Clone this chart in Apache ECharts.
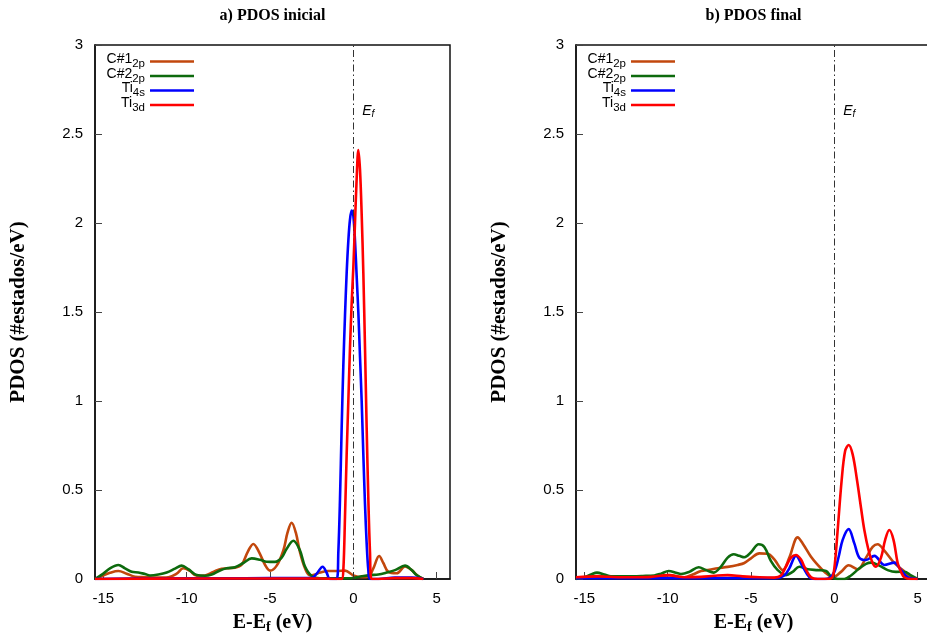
<!DOCTYPE html>
<html><head><meta charset="utf-8">
<script src="https://cdn.jsdelivr.net/npm/echarts@6/dist/echarts.min.js"></script>
<style>html,body{margin:0;padding:0;background:#fff}#c{width:927px;height:641px}</style>
</head><body><div id="c"></div>
<script>
// ---------- data ----------
const titles = ['a) PDOS inicial', 'b) PDOS final'];
const seriesNames = ['C#1', 'C#2', 'Ti4s', 'Ti3d'];
const xTickValues = [-15, -10, -5, 0, 5];
const xMin = -15.5, xMax = 5.8;
const yMin = 0, yMax = 3, yStep = 0.5;
const fermiE = 0;

// Panel a) PDOS inicial
const c1aE = [-15.5, -15.0, -14.6, -14.1, -13.6, -13.1, -12.5, -11.8, -11.1, -10.6, -10.2, -9.8, -9.4, -8.9, -8.4, -7.9, -7.1, -6.7, -6.35, -6.0, -5.65, -5.3, -5.0, -4.6, -4.2, -3.95, -3.7, -3.45, -3.2, -2.9, -2.6, -2.3, -2.0, -1.5, -1.0, -0.5, 0.0, 0.5, 0.9, 1.2, 1.55, 1.8, 2.1, 2.6, 3.1, 3.5, 3.9, 4.2];
const c1aP = [0.0, 0.02, 0.035, 0.045, 0.03, 0.013, 0.01, 0.008, 0.01, 0.03, 0.06, 0.045, 0.018, 0.02, 0.04, 0.058, 0.063, 0.08, 0.15, 0.197, 0.15, 0.08, 0.047, 0.075, 0.16, 0.26, 0.316, 0.26, 0.15, 0.06, 0.02, 0.025, 0.036, 0.045, 0.045, 0.047, 0.02, 0.01, 0.013, 0.06, 0.129, 0.09, 0.04, 0.032, 0.07, 0.05, 0.015, 0.0];

const c2aE = [-15.5, -15.0, -14.6, -14.1, -13.7, -13.3, -12.9, -12.5, -12.2, -11.7, -11.2, -10.7, -10.3, -9.9, -9.4, -8.9, -8.5, -8.0, -7.6, -7.1, -6.6, -6.1, -5.6, -5.2, -4.7, -4.3, -4.0, -3.6, -3.2, -2.9, -2.5, -2.0, -1.0, 0.0, 0.5, 1.0, 1.5, 2.0, 2.5, 3.1, 3.5, 3.8, 4.2];
const c2aP = [0.0, 0.03, 0.06, 0.079, 0.06, 0.041, 0.037, 0.028, 0.02, 0.025, 0.036, 0.058, 0.075, 0.055, 0.022, 0.018, 0.025, 0.048, 0.06, 0.066, 0.09, 0.116, 0.108, 0.097, 0.096, 0.12, 0.17, 0.215, 0.16, 0.07, 0.017, 0.004, 0.004, 0.006, 0.015, 0.022, 0.025, 0.036, 0.05, 0.075, 0.05, 0.022, 0.0];

const ti4saE = [-15.5, -12.0, -8.0, -5.0, -3.0, -2.5, -2.2, -1.84, -1.6, -1.4, -1.0, -0.9, -0.8, -0.7, -0.6, -0.5, -0.4, -0.3, -0.2, -0.1, 0.0, 0.1, 0.2, 0.3, 0.4, 0.5, 0.6, 0.7, 0.8, 0.9, 1.0, 1.5, 2.5, 3.5, 4.2];
const ti4saP = [0.0, 0.003, 0.004, 0.005, 0.005, 0.005, 0.03, 0.069, 0.035, 0.0, 0.0, 0.15, 0.45, 0.85, 1.2, 1.48, 1.72, 1.9, 2.02, 2.07, 2.04, 1.9, 1.7, 1.5, 1.25, 1.0, 0.7, 0.42, 0.2, 0.05, 0.0, 0.0, 0.008, 0.008, 0.0];

const ti3daE = [-15.5, -10.0, -5.0, -2.0, -1.0, -0.7, -0.6, -0.5, -0.4, -0.3, -0.2, -0.1, 0.0, 0.1, 0.2, 0.3, 0.4, 0.5, 0.6, 0.7, 0.8, 0.9, 1.0, 1.1, 1.5, 2.5, 3.5, 4.2];
const ti3daP = [0.0, 0.003, 0.003, 0.003, 0.0, 0.0, 0.05, 0.35, 0.7, 1.0, 1.3, 1.55, 1.75, 2.0, 2.25, 2.41, 2.3, 2.05, 1.72, 1.3, 0.85, 0.45, 0.15, 0.0, 0.0, 0.005, 0.005, 0.0];

// Panel b) PDOS final
const c1bE = [-15.5, -15.0, -14.2, -13.5, -12.5, -11.5, -10.5, -9.9, -9.0, -8.5, -8.0, -7.5, -7.0, -6.4, -5.8, -5.4, -5.0, -4.5, -4.0, -3.6, -3.1, -2.7, -2.2, -1.9, -1.4, -1.0, -0.6, -0.1, 0.4, 0.86, 1.4, 1.9, 2.3, 2.6, 3.0, 3.6, 4.1, 4.6, 5.0];
const c1bP = [0.0, 0.01, 0.017, 0.012, 0.01, 0.01, 0.012, 0.022, 0.01, 0.025, 0.045, 0.052, 0.06, 0.068, 0.079, 0.09, 0.116, 0.144, 0.142, 0.11, 0.05, 0.12, 0.234, 0.2, 0.125, 0.08, 0.041, 0.01, 0.04, 0.077, 0.054, 0.12, 0.18, 0.195, 0.16, 0.09, 0.05, 0.01, 0.0];

const c2bE = [-15.5, -15.0, -14.6, -14.24, -13.8, -13.4, -12.5, -11.5, -10.8, -10.4, -9.94, -9.5, -9.2, -8.7, -8.14, -7.7, -7.24, -6.8, -6.4, -6.04, -5.7, -5.4, -5.0, -4.54, -4.2, -3.8, -3.4, -2.9, -2.5, -2.1, -1.6, -1.0, -0.5, -0.2, 0.2, 0.6, 1.0, 1.5, 1.9, 2.2, 2.7, 3.2, 3.7, 4.2, 4.6, 5.0];
const c2bP = [0.0, 0.01, 0.025, 0.036, 0.025, 0.015, 0.015, 0.017, 0.02, 0.03, 0.045, 0.035, 0.028, 0.04, 0.066, 0.05, 0.036, 0.07, 0.12, 0.139, 0.13, 0.122, 0.15, 0.195, 0.18, 0.1, 0.05, 0.022, 0.04, 0.069, 0.055, 0.05, 0.045, 0.015, 0.0, 0.0, 0.02, 0.06, 0.085, 0.092, 0.075, 0.05, 0.04, 0.041, 0.02, 0.0];

const ti4sbE = [-15.5, -12.0, -8.0, -5.0, -3.5, -3.0, -2.7, -2.3, -1.9, -1.5, -1.2, -0.6, -0.3, 0.0, 0.26, 0.5, 0.86, 1.2, 1.5, 1.9, 2.4, 3.0, 3.6, 4.0, 4.4, 5.0];
const ti4sbP = [0.005, 0.005, 0.005, 0.005, 0.005, 0.02, 0.06, 0.13, 0.07, 0.01, 0.0, 0.0, 0.005, 0.04, 0.125, 0.22, 0.28, 0.2, 0.12, 0.107, 0.13, 0.079, 0.092, 0.05, 0.01, 0.0];

const ti3dbE = [-15.5, -14.2, -13.0, -12.0, -11.0, -10.0, -9.0, -8.0, -7.2, -6.4, -5.5, -4.5, -3.6, -3.2, -2.9, -2.6, -2.3, -2.0, -1.8, -1.4, -1.0, -0.5, -0.16, 0.0, 0.2, 0.44, 0.65, 0.86, 1.1, 1.36, 1.6, 1.8, 2.05, 2.3, 2.5, 2.8, 3.05, 3.3, 3.55, 3.8, 4.0, 4.2, 4.6, 5.0];
const ti3dbP = [0.01, 0.015, 0.01, 0.01, 0.012, 0.022, 0.01, 0.012, 0.018, 0.022, 0.015, 0.01, 0.008, 0.02, 0.07, 0.12, 0.135, 0.11, 0.07, 0.01, 0.0, 0.0, 0.005, 0.06, 0.275, 0.556, 0.72, 0.753, 0.7, 0.556, 0.4, 0.275, 0.163, 0.09, 0.069, 0.12, 0.22, 0.275, 0.22, 0.09, 0.04, 0.01, 0.0, 0.0];

// Fermi label anchor (data coords)
const fermiLabelAt = [0.9, 2.63];

// ---------- chart ----------
const colors = { 'C#1': '#c2470c', 'C#2': '#0d6a0d', 'Ti4s': '#0000ff', 'Ti3d': '#ff0000' };
const legendText = { 'C#1': '{n|C#1}{s|2p}', 'C#2': '{n|C#2}{s|2p}', 'Ti4s': '{n|Ti}{s|4s}', 'Ti3d': '{n|Ti}{s|3d}' };
const serif = '"Liberation Serif", "Times New Roman", serif';
const sans = '"Liberation Sans", Arial, sans-serif';

function zip(a, b) { return a.map((v, i) => [v, b[i]]); }

const panels = [
  { left: 95, data: [[c1aE, c1aP], [c2aE, c2aP], [ti4saE, ti4saP], [ti3daE, ti3daP]], legendRight: 733 },
  { left: 576, data: [[c1bE, c1bP], [c2bE, c2bP], [ti4sbE, ti4sbP], [ti3dbE, ti3dbP]], legendRight: 252 }
];

const grid = [], xAxis = [], yAxis = [], series = [], legend = [], graphic = [];
const axisNameRich = {
  b: { fontFamily: serif, fontWeight: 'bold', fontSize: 20, color: '#000', lineHeight: 24 },
  s: { fontFamily: serif, fontWeight: 'bold', fontSize: 14, color: '#000', lineHeight: 24, padding: [9, 0, 0, 0] }
};

panels.forEach((p, gi) => {
  grid.push({ left: p.left, top: 45, width: 355, height: 534, show: true, borderColor: '#111', borderWidth: 1.5, backgroundColor: 'transparent', containLabel: false, outerBoundsMode: 'none' });
  xAxis.push({
    type: 'value', gridIndex: gi, min: xMin, max: xMax,
    axisLine: { show: true, onZero: false, lineStyle: { color: '#111', width: 1.5 } },
    axisTick: { show: true, inside: true, length: 7, customValues: xTickValues, lineStyle: { color: '#444', width: 1 } },
    axisLabel: { show: true, customValues: xTickValues, margin: 12, fontFamily: sans, fontSize: 15, color: '#000' },
    splitLine: { show: false },
    name: '{b|E-E}{s|f}{b| (eV)}', nameLocation: 'middle', nameGap: 30,
    nameTextStyle: { rich: axisNameRich }
  });
  yAxis.push({
    type: 'value', gridIndex: gi, min: yMin, max: yMax, interval: yStep,
    axisLine: { show: true, onZero: false, lineStyle: { color: '#111', width: 1.5 } },
    axisTick: { show: true, inside: true, length: 7, lineStyle: { color: '#444', width: 1 } },
    axisLabel: { show: true, margin: 12, fontFamily: sans, fontSize: 15, color: '#000' },
    splitLine: { show: false },
    name: 'PDOS (#estados/eV)', nameLocation: 'middle', nameGap: 66,
    nameTextStyle: { fontFamily: serif, fontWeight: 'bold', fontSize: 21, color: '#000' }
  });
  seriesNames.forEach((name, si) => {
    const s = {
      type: 'line', name: name, xAxisIndex: gi, yAxisIndex: gi,
      data: zip(p.data[si][0], p.data[si][1]),
      smooth: 0.35, symbol: 'none', showSymbol: false, clip: true,
      lineStyle: { color: colors[name], width: 2.6 },
      itemStyle: { color: colors[name] },
      z: 2 + si
    };
    if (si === 0) {
      s.markLine = {
        silent: true, symbol: ['none', 'none'], label: { show: false },
        lineStyle: { color: '#333', width: 1, type: [7, 3, 1.5, 3] },
        data: [{ xAxis: fermiE }]
      };
      s.markPoint = {
        silent: true, symbol: 'circle', symbolSize: 1, itemStyle: { color: 'rgba(0,0,0,0)' },
        data: [{ coord: fermiLabelAt }],
        label: {
          show: true, position: 'inside', formatter: '{e|E}{f|f}',
          rich: {
            e: { fontFamily: sans, fontStyle: 'italic', fontSize: 14, color: '#000', lineHeight: 16 },
            f: { fontFamily: sans, fontStyle: 'italic', fontSize: 10, color: '#000', lineHeight: 16, padding: [7, 0, 0, 0] }
          }
        }
      };
    }
    series.push(s);
  });
  legend.push({
    data: seriesNames, orient: 'vertical', align: 'right', right: p.legendRight, top: 52.5,
    padding: 0, itemGap: -3.5, itemWidth: 44, itemHeight: 2.6, icon: 'rect', selectedMode: false,
    formatter: n => legendText[n],
    textStyle: {
      fontFamily: sans, fontSize: 14, color: '#000',
      rich: {
        n: { fontFamily: sans, fontSize: 14, color: '#000', lineHeight: 14.5, padding: [0, 0, 4, 0] },
        s: { fontFamily: sans, fontSize: 11.5, color: '#000', lineHeight: 14.5, padding: [5, 0, 0, 0] }
      }
    }
  });
  graphic.push({
    type: 'text', x: p.left + 177.5, y: 16,
    style: { text: titles[gi], textAlign: 'center', textVerticalAlign: 'middle', font: 'bold 16px ' + serif, fill: '#000' }
  });
});

const chart = echarts.init(document.getElementById('c'), null, { renderer: 'canvas' });
chart.setOption({
  animation: false,
  backgroundColor: '#fff',
  grid, xAxis, yAxis, series, legend, graphic
});
</script></body></html>
